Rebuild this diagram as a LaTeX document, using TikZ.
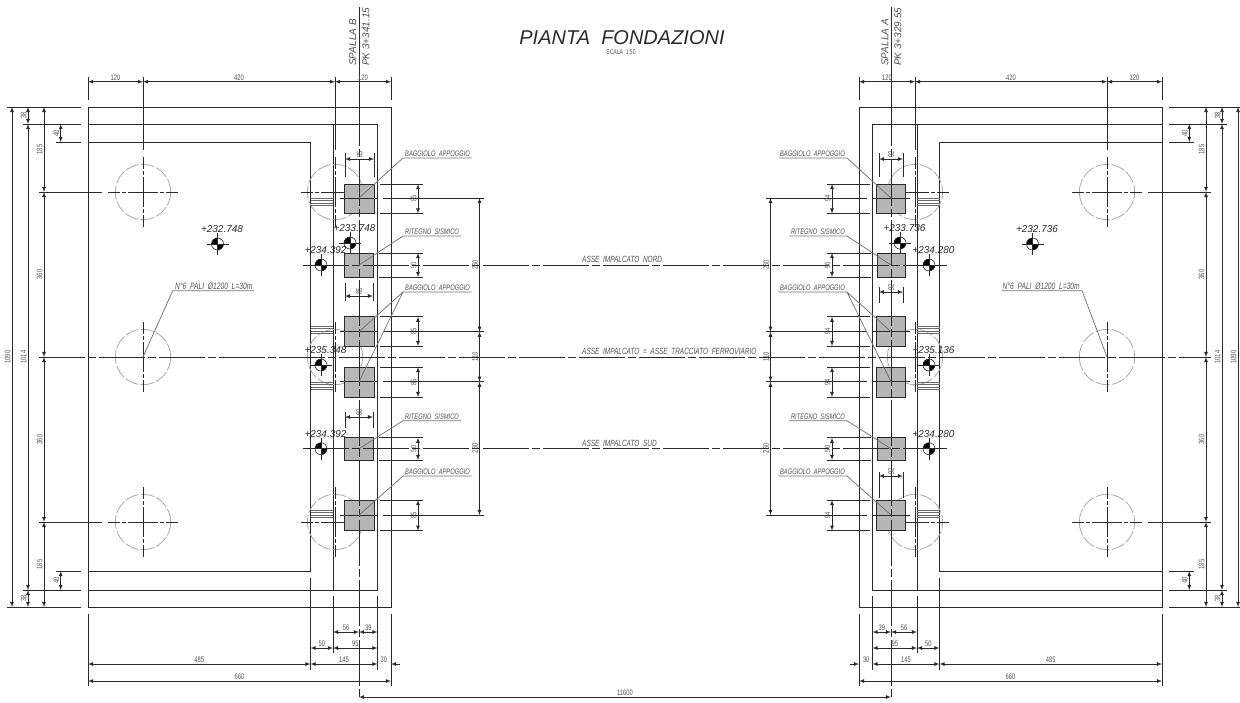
\documentclass[tikz,border=0pt]{standalone}
\usepackage{fontspec}
\setmainfont{Liberation Sans}[FakeStretch=0.72]
\newfontfamily\levelfont{Liberation Sans}
\usepackage{tikz}
\usetikzlibrary{%
  calc,%
  arrows%
}
\definecolor{inkline}{HTML}{2a2a2a}
\definecolor{inktext}{HTML}{505050}
\definecolor{padgray}{HTML}{b6b6b6}
\definecolor{pilegray}{HTML}{a8a8a8}
\tikzset{
  wall/.style={draw=inkline, line width=0.9pt},
  extline/.style={draw=inkline, line width=0.85pt},
  dimline/.style={draw=inkline, line width=0.75pt, <->, >=latex},
  axisline/.style={draw=inkline, line width=1pt, dash pattern=on 46pt off 3pt on 8pt off 3pt},
  crossline/.style={draw=inkline, line width=1pt, dash pattern=on 12pt off 2pt on 4pt off 2pt on 30pt off 2pt on 4pt off 2pt on 12pt},
  pad/.style={draw=inkline, fill=padgray, line width=1pt},
  pilering/.style={draw=pilegray, line width=0.8pt, dash pattern=on 14pt off 2pt},
  leader/.style={draw=inktext!80, line width=0.75pt},
  dimtext/.style={text=inktext, font=\fontsize{8}{8}\selectfont, inner sep=1.2pt},
  tagtext/.style={text=inktext, font=\fontsize{8}{8}\selectfont\itshape, inner sep=1pt, anchor=south west},
  axistext/.style={text=inktext, font=\fontsize{9}{9}\selectfont\itshape, inner sep=1pt, anchor=south west},
  piletext/.style={text=inktext, font=\fontsize{9.3}{9}\selectfont\itshape, inner sep=1pt, anchor=south west},
  sidetext/.style={text=inktext, font=\fontsize{10}{10}\selectfont\levelfont\itshape, inner sep=0pt, rotate=90, anchor=west},
  leveltext/.style={text=inkline, font=\fontsize{10}{10}\selectfont\levelfont\itshape, inner sep=0pt}
}
\newcounter{dimno}
% horizontal and vertical measure: ends, place, text
\newcommand{\dimH}[4]{\stepcounter{dimno}
  \draw[dimline] (#1,#3) -- node[dimtext, above] (dim\thedimno) {#4} (#2,#3);}
\newcommand{\dimV}[4]{\stepcounter{dimno}
  \draw[dimline] (#3,#1) -- node[dimtext, rotate=90, anchor=south] (dim\thedimno) {#4} (#3,#2);}
\newcommand{\dimW}[6]{\stepcounter{dimno}
  \draw[dimline] (#1,#3) -- node[dimtext, rotate=90, anchor=west] (dim\thedimno) {#4} (#2,#3);
  \draw[extline] (#1,#5) -- (#1,#6) (#2,#5) -- (#2,#6);}
\newcommand{\spot}[4]{
  \fill[black] (#1,#2) -- (#1+6,#2) arc (0:-90:6 and -6) -- cycle;
  \fill[black] (#1,#2) -- (#1-6,#2) arc (180:90:6 and -6) -- cycle;
  \draw[inkline, line width=0.6pt] (#1,#2) circle (6);
  \draw[inkline, line width=0.9pt] (#1-11,#2) -- (#1+11,#2) (#1,#2-11) -- (#1,#2+11);
  \node[leveltext] (#4) at (#1+4.5,#2-15) {#3};}
% bearing pad with its height measure
\newcommand{\bearing}[4]{
  \draw[pad] (344.5,#1) rectangle (374,#2);
  \draw[extline] (380,#1) -- (423,#1) (380,#2) -- (423,#2);
  \dimV{#1}{#2}{418}{#3}
  \draw[extline] (340,#4) -- (378,#4) (383,#4) -- (484,#4);}
\newcommand{\restraint}[3]{
  \draw[pad] (344.5,#1) rectangle (373,#2);
  \draw[extline] (379,#1) -- (423,#1) (379,#2) -- (423,#2);
  \dimV{#1}{#2}{418}{#3}}
% half of the foundation, drawn once per abutment
\newcommand{\abutment}[3]{
  % outlines
  \draw[wall] (88,107) rectangle (391,607);
  \draw[wall] (88,124) -- (377.5,124) -- (377.5,590) -- (88,590);
  \draw[wall] (88,142) -- (310.5,142) -- (310.5,571) -- (88,571);
  \draw[wall] (333,124) -- (333,590);
  % piles
  \foreach \px/\py in {143/192,143/357,143/522,335/192,335/357,335/522}{
    \draw[pilering] (\px,\py) circle (27.7);
    \draw[crossline] (\px,\py-35) -- (\px,\py+35);
  }
  \draw[extline] (143,77) -- (143,150) (335,77) -- (335,150);
  \draw[extline] (39,192) -- (102,192) (39,522) -- (102,522);
  \draw[crossline] (108,192) -- (178,192) (108,522) -- (178,522);
  \draw[crossline] (301,192) -- (371,192) (301,522) -- (371,522);
  % corbels
  \foreach \cy in {198,326,382,510}{
    \draw[draw=inkline!70, line width=0.6pt] (310.5,\cy) -- (333,\cy) (310.5,\cy+2.4) -- (333,\cy+2.4)
      (310.5,\cy+4.8) -- (333,\cy+4.8) (310.5,\cy+7) -- (333,\cy+7);
  }
  % pads
  \bearing{184}{213.5}{#1}{198}
  \restraint{253}{277}{#2}
  \bearing{316.7}{346}{#1}{331.7}
  \bearing{367}{397}{#1}{381.7}
  \restraint{437.7}{460}{#2}
  \bearing{500}{530.7}{#1}{515}
  % spalla axis
  \draw[extline] (359,7) -- (359,100);
  \draw[axisline] (359,100) -- (359,700);
  % top and left measures
  \draw[extline] (88,77) -- (88,100) (391,77) -- (391,100);
  \dimH{88}{143}{81.7}{120}
  \dimH{143}{335}{81.7}{420}
  \dimH{335}{391}{81.7}{120}
  \draw[extline] (7,107) -- (81,107) (7,607) -- (81,607) (23,124) -- (81,124) (23,590) -- (81,590)
    (56,142) -- (81,142) (56,571) -- (81,571);
  \dimV{107}{607}{12}{1090}
  \dimV{124}{590}{28}{1014}
  \dimV{107}{124}{28}{38}
  \dimV{590}{607}{28}{38}
  \dimV{107}{192}{44}{185}
  \dimV{192}{357}{44}{360}
  \dimV{357}{522}{44}{360}
  \dimV{522}{607}{44}{185}
  \dimV{124}{142}{60.7}{40}
  \dimV{571}{590}{60.7}{40}
  % bottom measures
  \draw[extline] (88,614) -- (88,686) (391,614) -- (391,686) (310.5,578) -- (310.5,670)
    (333,596) -- (333,653) (377.5,596) -- (377.5,670);
  \dimH{333}{359}{632}{56}
  \dimH{359}{377.5}{632}{39}
  \dimH{310.5}{333}{648}{50}
  \dimH{333}{377.5}{648}{95}
  \dimH{88}{310.5}{664}{485}
  \dimH{310.5}{377.5}{664}{145}
  \dimH{88}{391}{681}{660}
  \draw[dimline, <-] (391,664) -- node[dimtext, pos=-0.8, above] (#3thirty) {30} (400,664);
  % axes spacing
  \dimV{198}{331.7}{479.5}{260}
  \dimV{331.7}{381.7}{479.5}{110}
  \dimV{381.7}{515}{479.5}{260}
  % tags
  \draw[leader] (359,198) -- (403,158) -- (471.5,158);
  \draw[leader] (359,265) -- (403,236) -- (461,236);
  \draw[leader] (359,331.7) -- (403,292) -- (471.5,292) (359,381.7) -- (403,292);
  \draw[leader] (359,448.7) -- (403,420.7) -- (461,420.7);
  \draw[leader] (359,515) -- (403,476) -- (471.5,476);
}
\begin{document}
\begin{tikzpicture}[x=1pt, y=-1pt]
\useasboundingbox (0,0) rectangle (1240,702);

\abutment{85}{50}{L}
\dimW{345}{374}{159}{85}{153}{177}
\dimW{345}{373}{296}{85}{283}{301}
\dimW{345}{373}{417}{60}{412}{428}
\begin{scope}[xshift=1250pt, xscale=-1]
\abutment{94}{50}{R}
\dimW{347}{371}{159}{92}{153}{177}
\dimW{347}{371}{292}{92}{287}{303}
\dimW{347}{371}{476}{92}{472}{498}
\end{scope}

% axes between the abutments
\draw[axisline] (303,265) -- (947,265) (303,448.7) -- (947,448.7);
\draw[axisline] (39,357) -- (1211,357);
\node[axistext] (axisN) at (581,264) {ASSE\ \ IMPALCATO\ \ NORD};
\node[axistext] (axisC) at (581,356) {ASSE\ \ IMPALCATO\ \ =\ \ ASSE\ \ TRACCIATO\ \ FERROVIARIO};
\node[axistext] (axisS) at (581,447.7) {ASSE\ \ IMPALCATO\ \ SUD};
\draw[dimline] (359,697) -- node[dimtext, above] (span) {11600} (891,697);

% title
\node[text=inkline, font=\fontsize{20}{20}\selectfont\levelfont\itshape] (title) at (622,38) {PIANTA\ \ FONDAZIONI};
\node[dimtext, font=\fontsize{7}{7}\selectfont] (scala) at (621,52) {SCALA\ \ 1:50};
\node[sidetext] (spB) at (352.7,66) {SPALLA B};
\node[sidetext] (pkB) at (366,66) {PK 3+341.15};
\node[sidetext] (spA) at (885,66) {SPALLA A};
\node[sidetext] (pkA) at (898,66) {PK 3+329.55};

% tags left
\node[tagtext] (tagB1) at (404,158) {BAGGIOLO\ \ APPOGGIO};
\node[tagtext] (tagR1) at (404,236) {RITEGNO\ \ SISMICO};
\node[tagtext] (tagB2) at (404,292) {BAGGIOLO\ \ APPOGGIO};
\node[tagtext] (tagR2) at (404,420.7) {RITEGNO\ \ SISMICO};
\node[tagtext] (tagB3) at (404,476) {BAGGIOLO\ \ APPOGGIO};
% tags right
\node[tagtext, anchor=south east] (tagB4) at (846,158) {BAGGIOLO\ \ APPOGGIO};
\node[tagtext, anchor=south east] (tagR3) at (846,236) {RITEGNO\ \ SISMICO};
\node[tagtext, anchor=south east] (tagB5) at (846,292) {BAGGIOLO\ \ APPOGGIO};
\node[tagtext, anchor=south east] (tagR4) at (846,420.7) {RITEGNO\ \ SISMICO};
\node[tagtext, anchor=south east] (tagB6) at (846,476) {BAGGIOLO\ \ APPOGGIO};

% pile tags
\draw[leader] (143,357) -- (172.7,290.7) -- (254,290.7);
\draw[leader] (1107,357) -- (1082,290.7) -- (1001.5,290.7);
\node[piletext] (pileL) at (174,290.7) {N°6\ \ PALI\ \ Ø1200\ \ L=30m};
\node[piletext, anchor=south east] (pileR) at (1081,290.7) {N°6\ \ PALI\ \ Ø1200\ \ L=30m};

% levels
\spot{217.5}{244}{+232.748}{lvA}
\spot{350}{243}{+233.748}{lvB}
\spot{321}{265}{+234.392}{lvC}
\spot{321}{365}{+235.348}{lvD}
\spot{321}{448.7}{+234.392}{lvE}
\spot{1032.5}{244}{+232.736}{lvF}
\spot{900}{243}{+233.736}{lvG}
\spot{929}{265}{+234.280}{lvH}
\spot{929}{365}{+235.136}{lvI}
\spot{929}{448.7}{+234.280}{lvJ}
\end{tikzpicture}
\end{document}
